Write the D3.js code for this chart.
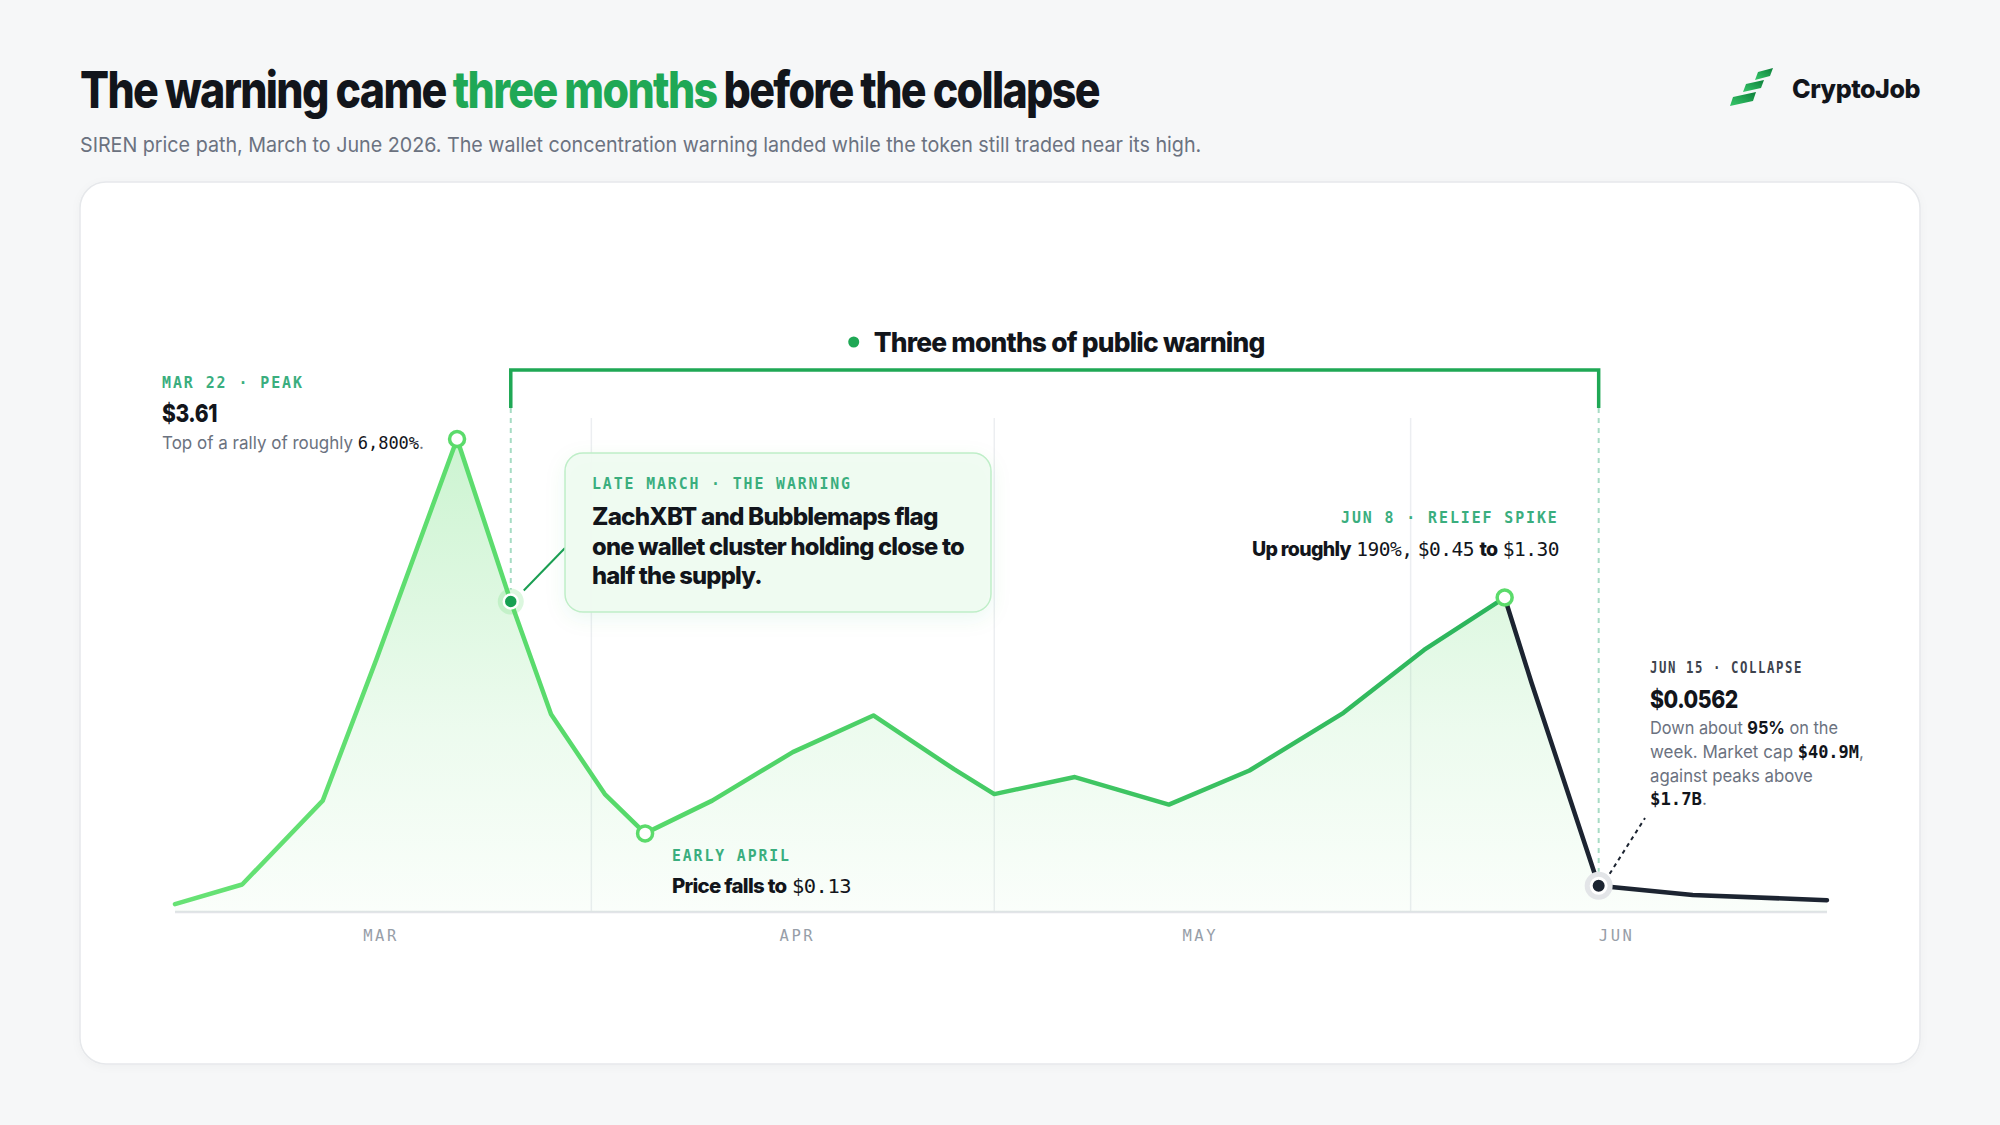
<!DOCTYPE html>
<html><head><meta charset="utf-8">
<script src="https://cdn.jsdelivr.net/npm/d3@7"></script>
<style>
html,body{margin:0;padding:0;background:#f6f7f8;}
svg{display:block;}
</style></head><body>
<svg id="chart" width="2000" height="1125"></svg>
<script>
// ---------------- DATA ----------------
const dates = ["2026-03-01","2026-03-06","2026-03-12","2026-03-16","2026-03-22","2026-03-26","2026-03-29","2026-04-02","2026-04-05","2026-04-10","2026-04-16","2026-04-22","2026-04-28","2026-05-01","2026-05-07","2026-05-14","2026-05-20","2026-05-27","2026-06-02","2026-06-08","2026-06-10","2026-06-15","2026-06-22","2026-07-02"];
const priceIndex = [0.06,0.21,0.85,1.93,3.61,2.37,1.51,0.90,0.60,0.85,1.22,1.50,1.09,0.90,1.03,0.82,1.08,1.52,2.00,2.40,1.75,0.20,0.13,0.09];
const monthTickDates = ["2026-03-16","2026-04-16","2026-05-16","2026-06-16"];
const monthLabels = ["MAR","APR","MAY","JUN"];
const monthStartDates = ["2026-04-01","2026-05-01","2026-06-01"];
const peakDate = "2026-03-22";
const warningDate = "2026-03-26";
const troughDate = "2026-04-05";
const spikeDate = "2026-06-08";
const collapseDate = "2026-06-15";

// ---------------- SETUP ----------------
const SANS = "Inter, 'Noto Sans', sans-serif";
const MONO = "'DejaVu Sans Mono', 'Liberation Mono', monospace";
const GREEN = "#1fa855", LABEL_GREEN = "#3aae7e", INK = "#12151b", GRAY = "#6b7280", DARK = "#1c2431";
const parse = d3.timeParse("%Y-%m-%d");
const data = dates.map((d,i)=>({date:parse(d), v:priceIndex[i], key:d}));
const svg = d3.select("#chart");
const defs = svg.append("defs");

// rich text: each segment its own <text>, laid out side by side (spaces turned into explicit gaps), then fitted to a target width
function rich(x, y, segs, width, anchor){
  const g = svg.append("g");
  let cx = 0;
  segs.forEach(s => {
    const lead = s.t.length - s.t.replace(/^ +/, "").length;
    const trail = s.t.length - s.t.replace(/ +$/, "").length;
    const sp = (s.sp || 0.27) * s.s;
    cx += lead * sp;
    const t = g.append("text").attr("x", cx).attr("y", 0).text(s.t.trim())
      .attr("font-family", s.f || SANS).attr("font-weight", s.w || 400)
      .attr("font-size", s.s).attr("fill", s.c || INK).attr("letter-spacing", s.ls || 0);
    cx += t.node().getComputedTextLength() + trail * sp;
  });
  const k = width ? width / cx : 1;
  const x0 = anchor === "end" ? x - cx * k : anchor === "middle" ? x - cx * k / 2 : x;
  g.attr("transform", `translate(${x0},${y}) scale(${k},1)`);
  return g;
}

// shadows / gradients
const sh = defs.append("filter").attr("id","soft").attr("x","-10%").attr("y","-10%").attr("width","120%").attr("height","130%");
sh.append("feDropShadow").attr("dx",0).attr("dy",6).attr("stdDeviation",10).attr("flood-color","#1fa855").attr("flood-opacity",0.08);
const cardSh = defs.append("filter").attr("id","cardsh").attr("x","-5%").attr("y","-5%").attr("width","110%").attr("height","110%");
cardSh.append("feDropShadow").attr("dx",0).attr("dy",2).attr("stdDeviation",4).attr("flood-color","#000").attr("flood-opacity",0.03);

// ---------------- HEADER ----------------
rich(80, 108, [
  {t:"The warning came ", w:800, s:51, ls:-2, sp:0.16},
  {t:"three months ", w:800, s:51, ls:-2, c:GREEN, sp:0.16},
  {t:"before the collapse", w:800, s:51, ls:-2}
], 1019);
rich(80, 152, [{t:"SIREN price path, March to June 2026. The wallet concentration warning landed while the token still traded near its high.", s:20.5, c:GRAY}], 1122);

// logo
const lg = defs.append("linearGradient").attr("id","logoGrad").attr("x1","0%").attr("y1","100%").attr("x2","100%").attr("y2","0%");
lg.append("stop").attr("offset","0%").attr("stop-color","#37c86b");
lg.append("stop").attr("offset","100%").attr("stop-color","#0d7f3a");
const logoBars = [
  [[1730,106],[1733,97],[1756,92],[1753,101]],
  [[1743,92],[1746,84],[1764,80],[1761,88]],
  [[1755,80],[1758,72],[1773,68],[1770,76]]
];
svg.append("g").selectAll("polygon").data(logoBars).join("polygon")
  .attr("points", d => d.map(p=>p.join(",")).join(" ")).attr("fill","url(#logoGrad)");
rich(1792, 98, [{t:"CryptoJob", w:800, s:26, ls:-0.5}], 128);

// card
svg.append("rect").attr("x",80).attr("y",182).attr("width",1840).attr("height",882).attr("rx",26)
  .attr("fill","#fff").attr("stroke","#e6e8eb").attr("stroke-width",1.5).attr("filter","url(#cardsh)");

// ---------------- SCALES ----------------
const x = d3.scaleTime().domain(d3.extent(data, d=>d.date)).range([175, 1827]);
const y = d3.scaleLinear().domain([0, 3.61]).range([912, 439]);
const byKey = k => data.find(d => d.key === k);
const P = k => { const d = byKey(k); return [x(d.date), y(d.v)]; };

// gridlines at month boundaries
svg.append("g").selectAll("line").data(monthStartDates.map(parse)).join("line")
  .attr("x1", d=>x(d)).attr("x2", d=>x(d)).attr("y1", 418).attr("y2", y(0))
  .attr("stroke","#eceef1").attr("stroke-width",1.5);

// baseline
svg.append("line").attr("x1",x.range()[0]).attr("x2",x.range()[1]).attr("y1",y(0)).attr("y2",y(0))
  .attr("stroke","#e2e4e8").attr("stroke-width",2.5);

// axis labels
const axis = d3.axisBottom(x).tickValues(monthTickDates.map(parse)).tickFormat((d,i)=>monthLabels[i]).tickSize(0).tickPadding(0);
const ag = svg.append("g").attr("transform",`translate(0,${y(0)})`).call(axis);
ag.select(".domain").remove();
ag.selectAll("text").attr("dy",null).attr("y",29).attr("font-family",MONO).attr("font-size",15.5)
  .attr("fill","#979ea8").attr("letter-spacing",2.5).attr("dx",4);

// ---------------- AREA & LINES ----------------
const ag2 = defs.append("linearGradient").attr("id","areaGrad").attr("gradientUnits","userSpaceOnUse")
  .attr("x1",0).attr("x2",0).attr("y1",y(3.61)).attr("y2",y(0));
ag2.append("stop").attr("offset","0%").attr("stop-color","#5fdc6e").attr("stop-opacity",0.32);
ag2.append("stop").attr("offset","60%").attr("stop-color","#5fdc6e").attr("stop-opacity",0.12);
ag2.append("stop").attr("offset","100%").attr("stop-color","#5fdc6e").attr("stop-opacity",0.03);
const area = d3.area().x(d=>x(d.date)).y0(y(0)).y1(d=>y(d.v));
svg.append("path").datum(data).attr("d",area).attr("fill","url(#areaGrad)");

const spikeIdx = dates.indexOf(spikeDate);
const lg2 = defs.append("linearGradient").attr("id","lineGrad").attr("gradientUnits","userSpaceOnUse")
  .attr("x1",x.range()[0]).attr("x2",x(parse(spikeDate))).attr("y1",0).attr("y2",0);
lg2.append("stop").attr("offset","0%").attr("stop-color","#67e275");
lg2.append("stop").attr("offset","35%").attr("stop-color","#56d96a");
lg2.append("stop").attr("offset","100%").attr("stop-color","#2bb45c");
const line = d3.line().x(d=>x(d.date)).y(d=>y(d.v));
svg.append("path").datum(data.slice(0, spikeIdx+1)).attr("d",line).attr("fill","none")
  .attr("stroke","url(#lineGrad)").attr("stroke-width",4.5).attr("stroke-linejoin","round").attr("stroke-linecap","round");
svg.append("path").datum(data.slice(spikeIdx)).attr("d",line).attr("fill","none")
  .attr("stroke",DARK).attr("stroke-width",4.5).attr("stroke-linejoin","round").attr("stroke-linecap","round");

// ---------------- BRACKET ----------------
const [xw, yw] = P(warningDate), [xc, yc] = P(collapseDate);
const bracketY = 370, tickBottom = 408;
svg.append("line").attr("x1",xw).attr("x2",xw).attr("y1",tickBottom).attr("y2",yw-12)
  .attr("stroke","#a6dcc4").attr("stroke-width",2).attr("stroke-dasharray","5,5");
svg.append("line").attr("x1",xc).attr("x2",xc).attr("y1",tickBottom).attr("y2",yc-14)
  .attr("stroke","#a6dcc4").attr("stroke-width",2).attr("stroke-dasharray","5,5");
svg.append("path").attr("d",`M${xw},${tickBottom}V${bracketY}H${xc}V${tickBottom}`)
  .attr("fill","none").attr("stroke",GREEN).attr("stroke-width",3.5);
const mid = (xw + xc) / 2;
svg.append("circle").attr("cx", mid - 201).attr("cy", 342).attr("r", 5.5).attr("fill", GREEN);
rich(mid - 181, 352, [{t:"Three months of public warning", w:800, s:27, ls:-0.8}], 391);

// ---------------- MARKERS ----------------
const [xp, yp] = P(peakDate), [xt, yt] = P(troughDate), [xs, ys] = P(spikeDate);
[[xp,yp],[xt,yt],[xs,ys]].forEach(([cx,cy]) => {
  svg.append("circle").attr("cx",cx).attr("cy",cy).attr("r",7.5).attr("fill","#fff").attr("stroke","#5bdb6b").attr("stroke-width",3.5);
});
svg.append("circle").attr("cx",xw).attr("cy",yw).attr("r",13).attr("fill","#5fdc6e").attr("opacity",0.22);
svg.append("circle").attr("cx",xw).attr("cy",yw).attr("r",7).attr("fill","#17a052").attr("stroke","#fff").attr("stroke-width",2.5);
svg.append("circle").attr("cx",xc).attr("cy",yc).attr("r",14).attr("fill","#e3e5e8");
svg.append("circle").attr("cx",xc).attr("cy",yc).attr("r",7.5).attr("fill",DARK).attr("stroke","#fff").attr("stroke-width",3);

// ---------------- WARNING BOX ----------------
const box = {x:565, y:453, w:426, h:159};
svg.append("line").attr("x1",xw+13).attr("y1",yw-11).attr("x2",box.x).attr("y2",box.y+95)
  .attr("stroke","#1a9e52").attr("stroke-width",2);
svg.append("rect").attr("x",box.x).attr("y",box.y).attr("width",box.w).attr("height",box.h).attr("rx",18)
  .attr("fill","#effbf1").attr("fill-opacity",0.96).attr("stroke","#bfeec8").attr("stroke-width",1.5).attr("filter","url(#soft)");
rich(592, 489, [{t:"LATE MARCH · THE WARNING", f:MONO, s:15.5, ls:2, c:LABEL_GREEN, w:700}], 260);
rich(592, 525, [{t:"ZachXBT and Bubblemaps flag", w:800, s:24, ls:-0.8}], 346);
rich(592, 555, [{t:"one wallet cluster holding close to", w:800, s:24, ls:-0.8}], 372);
rich(592, 584, [{t:"half the supply.", w:800, s:24, ls:-0.8}], 170);

// ---------------- ANNOTATIONS ----------------
// peak
rich(162, 388, [{t:"MAR 22 · PEAK", f:MONO, s:15.5, ls:2, c:LABEL_GREEN, w:700}], 142);
rich(162, 422, [{t:"$3.61", w:800, s:25, ls:-0.5}], 55);
rich(162, 449, [
  {t:"Top of a rally of roughly ", s:17.5, c:GRAY},
  {t:"6,800%", f:MONO, s:17.5, c:INK},
  {t:".", s:17.5, c:GRAY}
], 262);

// relief spike
rich(1559, 523, [{t:"JUN 8 · RELIEF SPIKE", f:MONO, s:15.5, ls:2, c:LABEL_GREEN, w:700}], 218, "end");
rich(1559, 556, [
  {t:"Up roughly ", w:800, s:20, ls:-0.7},
  {t:"190%, ", f:MONO, s:20, ls:-0.5},
  {t:"$0.45 ", f:MONO, s:20, ls:-0.5},
  {t:"to ", w:800, s:20, ls:-0.7},
  {t:"$1.30", f:MONO, s:20, ls:-0.5}
], 307, "end");

// early april
rich(672, 861, [{t:"EARLY APRIL", f:MONO, s:15.5, ls:2, c:LABEL_GREEN, w:700}], 119);
rich(672, 893, [
  {t:"Price falls to ", w:800, s:20, ls:-0.7},
  {t:"$0.13", f:MONO, s:20, ls:-0.5}
], 179);

// collapse
svg.append("line").attr("x1",xc+11).attr("y1",yc-12).attr("x2",1645).attr("y2",818)
  .attr("stroke",DARK).attr("stroke-width",2).attr("stroke-dasharray","4,4");
rich(1650, 673, [{t:"JUN 15 · COLLAPSE", f:MONO, s:15.5, ls:2, c:"#3d434d", w:700}], 153);
rich(1650, 708, [{t:"$0.0562", w:800, s:25, ls:-0.5}], 88);
rich(1650, 734, [
  {t:"Down about ", s:17.5, c:GRAY},
  {t:"95% ", w:700, s:17.5, c:INK},
  {t:"on the", s:17.5, c:GRAY}
], 188);
rich(1650, 758, [
  {t:"week. Market cap ", s:17.5, c:GRAY},
  {t:"$40.9M", f:MONO, s:17.5, c:INK, w:700},
  {t:",", s:17.5, c:GRAY}
], 214);
rich(1650, 782, [{t:"against peaks above", s:17.5, c:GRAY}], 163);
rich(1650, 805, [
  {t:"$1.7B", f:MONO, s:17.5, c:INK, w:700},
  {t:".", s:17.5, c:GRAY}
], 57);
</script>
</body></html>
